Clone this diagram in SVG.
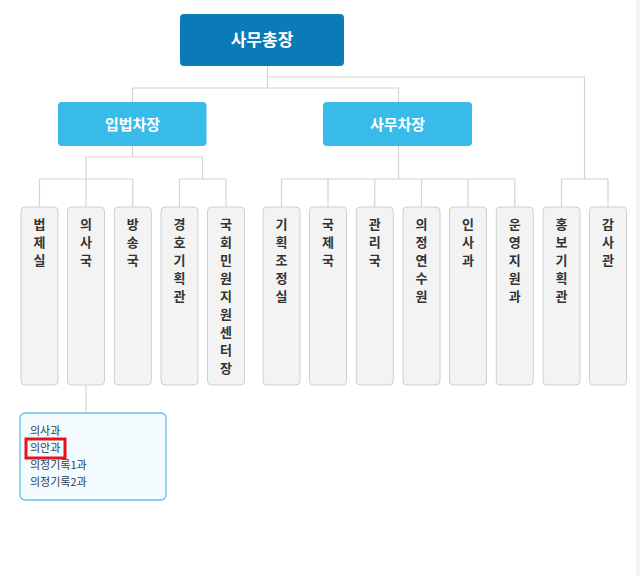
<svg xmlns="http://www.w3.org/2000/svg" width="640" height="576" viewBox="0 0 640 576">
<style>
.ln{fill:none;stroke:#d4d4d4;stroke-width:1.2}
.top{fill:#0b7bb8}
.mid{fill:#39bbea}
.hd{font-family:"Noto Sans CJK KR","Noto Sans",sans-serif;font-weight:bold;fill:#fff;text-anchor:middle}
.bx{fill:#f3f3f3;stroke:#cfcfcf;stroke-width:1}
.vt{font-family:"Noto Sans CJK KR","Noto Sans",sans-serif;font-weight:bold;font-size:13px;fill:#333;text-anchor:middle}
.sub{fill:#f3fbfe;stroke:#62c3e6;stroke-width:1.3}
.st{font-family:"Noto Sans CJK KR","Noto Sans",sans-serif;font-size:11px;fill:#2f3b55}
</style>
<rect x="0" y="0" width="640" height="576" fill="#fff"/>
<rect x="636" y="0" width="4" height="576" fill="#f3f3f3"/>
<g id="connectors">
<path class="ln" d="M267.5 66V88M267.5 77H584.5V179M132.5 88H398.5V102M132.5 88V102"/>
<path class="ln" d="M132.5 146V157M86 157H202.5M86 157V179M202.5 157V179"/>
<path class="ln" d="M39.5 179H132.8M39.5 179V207M86 179V207M132.8 179V207"/>
<path class="ln" d="M179.5 179H226M179.5 179V207M226 179V207"/>
<path class="ln" d="M398.5 146V179M281.5 179H514.8M281.5 179V207M328 179V207M374.8 179V207M421.5 179V207M468 179V207M514.8 179V207"/>
<path class="ln" d="M561.5 179H608M561.5 179V207M608 179V207"/>
<path class="ln" d="M86 385V413"/>
</g>
<g id="n-sgj"><rect class="top" x="180" y="14" width="164" height="52" rx="4"/><text class="hd" x="262" y="46" font-size="17">사무총장</text></g>
<g id="n-ib"><rect class="mid" x="58" y="102" width="148.5" height="44" rx="4"/><text class="hd" x="132.5" y="130" font-size="15">입법차장</text></g>
<g id="n-sm"><rect class="mid" x="323" y="102" width="149" height="44" rx="4"/><text class="hd" x="397.5" y="130" font-size="15">사무차장</text></g>
<g id="n1"><rect class="bx" x="21" y="207" width="37" height="178" rx="4"/><text class="vt" y="229"><tspan x="39.5">법</tspan><tspan x="39.5" dy="18">제</tspan><tspan x="39.5" dy="18">실</tspan></text></g>
<g id="n2"><rect class="bx" x="67.5" y="207" width="37" height="178" rx="4"/><text class="vt" y="229"><tspan x="86">의</tspan><tspan x="86" dy="18">사</tspan><tspan x="86" dy="18">국</tspan></text></g>
<g id="n3"><rect class="bx" x="114.3" y="207" width="37" height="178" rx="4"/><text class="vt" y="229"><tspan x="132.8">방</tspan><tspan x="132.8" dy="18">송</tspan><tspan x="132.8" dy="18">국</tspan></text></g>
<g id="n4"><rect class="bx" x="161" y="207" width="37" height="178" rx="4"/><text class="vt" y="229"><tspan x="179.5">경</tspan><tspan x="179.5" dy="18">호</tspan><tspan x="179.5" dy="18">기</tspan><tspan x="179.5" dy="18">획</tspan><tspan x="179.5" dy="18">관</tspan></text></g>
<g id="n5"><rect class="bx" x="207.5" y="207" width="37" height="178" rx="4"/><text class="vt" y="229"><tspan x="226">국</tspan><tspan x="226" dy="18">회</tspan><tspan x="226" dy="18">민</tspan><tspan x="226" dy="18">원</tspan><tspan x="226" dy="18">지</tspan><tspan x="226" dy="18">원</tspan><tspan x="226" dy="18">센</tspan><tspan x="226" dy="18">터</tspan><tspan x="226" dy="18">장</tspan></text></g>
<g id="n6"><rect class="bx" x="263" y="207" width="37" height="178" rx="4"/><text class="vt" y="229"><tspan x="281.5">기</tspan><tspan x="281.5" dy="18">획</tspan><tspan x="281.5" dy="18">조</tspan><tspan x="281.5" dy="18">정</tspan><tspan x="281.5" dy="18">실</tspan></text></g>
<g id="n7"><rect class="bx" x="309.5" y="207" width="37" height="178" rx="4"/><text class="vt" y="229"><tspan x="328">국</tspan><tspan x="328" dy="18">제</tspan><tspan x="328" dy="18">국</tspan></text></g>
<g id="n8"><rect class="bx" x="356.3" y="207" width="37" height="178" rx="4"/><text class="vt" y="229"><tspan x="374.8">관</tspan><tspan x="374.8" dy="18">리</tspan><tspan x="374.8" dy="18">국</tspan></text></g>
<g id="n9"><rect class="bx" x="403" y="207" width="37" height="178" rx="4"/><text class="vt" y="229"><tspan x="421.5">의</tspan><tspan x="421.5" dy="18">정</tspan><tspan x="421.5" dy="18">연</tspan><tspan x="421.5" dy="18">수</tspan><tspan x="421.5" dy="18">원</tspan></text></g>
<g id="n10"><rect class="bx" x="449.5" y="207" width="37" height="178" rx="4"/><text class="vt" y="229"><tspan x="468">인</tspan><tspan x="468" dy="18">사</tspan><tspan x="468" dy="18">과</tspan></text></g>
<g id="n11"><rect class="bx" x="496.3" y="207" width="37" height="178" rx="4"/><text class="vt" y="229"><tspan x="514.8">운</tspan><tspan x="514.8" dy="18">영</tspan><tspan x="514.8" dy="18">지</tspan><tspan x="514.8" dy="18">원</tspan><tspan x="514.8" dy="18">과</tspan></text></g>
<g id="n12"><rect class="bx" x="543" y="207" width="37" height="178" rx="4"/><text class="vt" y="229"><tspan x="561.5">홍</tspan><tspan x="561.5" dy="18">보</tspan><tspan x="561.5" dy="18">기</tspan><tspan x="561.5" dy="18">획</tspan><tspan x="561.5" dy="18">관</tspan></text></g>
<g id="n13"><rect class="bx" x="589.5" y="207" width="37" height="178" rx="4"/><text class="vt" y="229"><tspan x="608">감</tspan><tspan x="608" dy="18">사</tspan><tspan x="608" dy="18">관</tspan></text></g>
<g id="n-sub"><rect class="sub" x="20" y="413" width="146" height="87" rx="5"/>
<text class="st" x="30" y="435">의사과</text>
<text class="st" x="30" y="452">의안과</text>
<text class="st" x="30" y="469">의정기록1과</text>
<text class="st" x="30" y="485.5">의정기록2과</text>
<rect x="26" y="439" width="39" height="19" fill="none" stroke="#e8141b" stroke-width="3"/>
</g>
</svg>
